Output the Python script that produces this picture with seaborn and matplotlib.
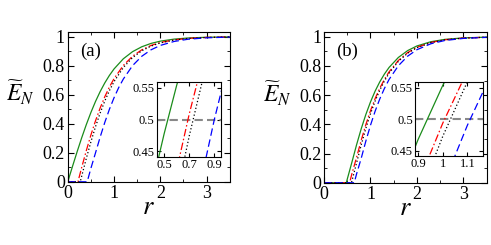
import pandas as pd
import seaborn as sns
import matplotlib
matplotlib.use("Agg")
import matplotlib.pyplot as plt
from matplotlib.ticker import MultipleLocator, FuncFormatter

# valores: painel (a)
r_a_green = [0, 0.1, 0.2, 0.3, 0.4, 0.5, 0.6, 0.7, 0.8, 0.9, 1.0, 1.2, 1.4, 1.6, 1.8, 2.0, 2.3, 2.6, 3.0, 3.5]
E_a_green = [0, 0.1036, 0.2050, 0.3023, 0.3935, 0.4777, 0.5540, 0.6218, 0.6815, 0.7334, 0.7779,
             0.8477, 0.8969, 0.9307, 0.9538, 0.9693, 0.9834, 0.9911, 0.9961, 0.9986]
r_a_red = [0, 0.22, 0.3, 0.4, 0.5, 0.6, 0.7, 0.8, 0.9, 1.0, 1.2, 1.4, 1.6, 1.8, 2.0, 2.3, 2.6, 3.0, 3.5]
E_a_red = [0, 0, 0.0976, 0.2142, 0.3225, 0.4210, 0.5087, 0.5860, 0.6533, 0.7111, 0.8017, 0.8658,
           0.9097, 0.9398, 0.9600, 0.9784, 0.9884, 0.9949, 0.9982]
r_a_black = [0, 0.27, 0.3, 0.4, 0.5, 0.6, 0.7, 0.8, 0.9, 1.0, 1.2, 1.4, 1.6, 1.8, 2.0, 2.3, 2.6, 3.0, 3.5]
E_a_black = [0, 0, 0.0377, 0.1607, 0.2757, 0.3805, 0.4741, 0.5567, 0.6287, 0.6905, 0.7876, 0.8561,
             0.9032, 0.9355, 0.9571, 0.9768, 0.9875, 0.9946, 0.9981]
r_a_blue = [0, 0.42, 0.5, 0.6, 0.7, 0.8, 0.9, 1.0, 1.1, 1.2, 1.4, 1.6, 1.8, 2.0, 2.3, 2.6, 3.0, 3.5]
E_a_blue = [0, 0, 0.093, 0.2000, 0.3085, 0.4092, 0.4999, 0.5796, 0.6489, 0.7080, 0.8007, 0.8654,
            0.9098, 0.9399, 0.9674, 0.9825, 0.9923, 0.9973]

# painel (b)
r_b_green = [0, 0.48, 0.5, 0.6, 0.7, 0.8, 0.9, 1.0, 1.1, 1.2, 1.3, 1.4, 1.6, 1.8, 2.0, 2.3, 2.6, 3.0, 3.5]
E_b_green = [0, 0, 0.025, 0.1410, 0.2599, 0.3695, 0.4677, 0.5536, 0.6278, 0.6910, 0.7445, 0.7896,
             0.8580, 0.9050, 0.9368, 0.9658, 0.9817, 0.9920, 0.9971]
r_b_red = [0, 0.55, 0.6, 0.7, 0.8, 0.9, 1.0, 1.1, 1.2, 1.3, 1.4, 1.6, 1.8, 2.0, 2.3, 2.6, 3.0, 3.5]
E_b_red = [0, 0, 0.062, 0.1736, 0.2910, 0.3984, 0.4936, 0.5767, 0.6477, 0.7083, 0.7593, 0.8374,
           0.8911, 0.9275, 0.9607, 0.9789, 0.9908, 0.9967]
r_b_black = [0, 0.59, 0.6, 0.7, 0.8, 0.9, 1.0, 1.1, 1.2, 1.3, 1.4, 1.6, 1.8, 2.0, 2.3, 2.6, 3.0, 3.5]
E_b_black = [0, 0, 0.0125, 0.1352, 0.2593, 0.3726, 0.4727, 0.5597, 0.6340, 0.6971, 0.7504, 0.8314,
             0.8873, 0.9250, 0.9593, 0.9782, 0.9904, 0.9966]
r_b_blue = [0, 0.65, 0.7, 0.8, 0.9, 1.0, 1.1, 1.2, 1.3, 1.4, 1.6, 1.8, 2.0, 2.3, 2.6, 3.0, 3.5]
E_b_blue = [0, 0, 0.06, 0.1674, 0.2855, 0.3939, 0.4903, 0.5741, 0.6461, 0.7074, 0.8014, 0.8668,
            0.9111, 0.9518, 0.9741, 0.9886, 0.9959]

curvas = ["green", "red", "black", "blue"]
cores = {"green": "#1a8c1a", "red": "#ff0000", "black": "#000000", "blue": "#0000ff"}
tracos = {"green": "", "red": (6, 2, 1.2, 2), "black": (1, 1.8), "blue": (6, 3)}


def monta(rs, Es):
    partes = []
    for nome, r, E in zip(curvas, rs, Es):
        partes.append(pd.DataFrame({"r": r, "E": E, "curva": nome}))
    return pd.concat(partes, ignore_index=True)


df_a = monta([r_a_green, r_a_red, r_a_black, r_a_blue], [E_a_green, E_a_red, E_a_black, E_a_blue])
df_b = monta([r_b_green, r_b_red, r_b_black, r_b_blue], [E_b_green, E_b_red, E_b_black, E_b_blue])

sns.set_style("ticks")
plt.rcParams["font.family"] = "serif"
plt.rcParams["font.serif"] = ["Liberation Serif", "DejaVu Serif"]
plt.rcParams["mathtext.fontset"] = "stix"
plt.rcParams["xtick.direction"] = "in"
plt.rcParams["ytick.direction"] = "in"
plt.rcParams["xtick.top"] = True
plt.rcParams["ytick.right"] = True
for k in ["text.color", "axes.labelcolor", "xtick.color", "ytick.color", "axes.edgecolor"]:
    plt.rcParams[k] = "black"

fmt = FuncFormatter(lambda v, p: "%g" % round(v, 3))

fig = plt.figure(figsize=(4.91, 2.45), dpi=100)
ax_a = fig.add_axes([0.138, 0.258, 0.330, 0.610])
ax_b = fig.add_axes([0.660, 0.254, 0.331, 0.614])
in_a = fig.add_axes([0.319, 0.359, 0.131, 0.306])
in_b = fig.add_axes([0.845, 0.362, 0.138, 0.303])

for ax, df, letra in [(ax_a, df_a, "(a)"), (ax_b, df_b, "(b)")]:
    sns.lineplot(data=df, x="r", y="E", hue="curva", style="curva", palette=cores, dashes=tracos,
                 hue_order=curvas, style_order=curvas, sort=False, linewidth=0.9, legend=False, ax=ax)
    ax.set_xlim(0, 3.5)
    ax.set_ylim(0, 1.03)
    ax.xaxis.set_major_locator(MultipleLocator(1))
    ax.xaxis.set_minor_locator(MultipleLocator(0.5))
    ax.yaxis.set_major_locator(MultipleLocator(0.2))
    ax.yaxis.set_minor_locator(MultipleLocator(0.1))
    ax.xaxis.set_major_formatter(fmt)
    ax.yaxis.set_major_formatter(fmt)
    ax.tick_params(which="major", length=4, labelsize=13, pad=2)
    ax.tick_params(which="minor", length=2.5)
    ax.set_xlabel("$r$", fontsize=19, labelpad=-3)
    ax.set_ylabel(r"$\widetilde{E}_N$", fontsize=17, rotation=0)
    ax.yaxis.set_label_coords(-0.29, 0.50)
    ax.text(0.075, 0.875, letra, transform=ax.transAxes, fontsize=13.5, ha="left", va="center")

for ax, df, lim, major in [(in_a, df_a, (0.44, 0.953), [0.5, 0.7, 0.9]),
                           (in_b, df_b, (0.887, 1.162), [0.9, 1.0, 1.1])]:
    ax.axhline(0.5, color="#888888", linewidth=1.5, dashes=(4, 2))
    sns.lineplot(data=df, x="r", y="E", hue="curva", style="curva", palette=cores, dashes=tracos,
                 hue_order=curvas, style_order=curvas, sort=False, linewidth=0.9, legend=False, ax=ax)
    ax.set_xlim(*lim)
    ax.set_ylim(0.441, 0.559)
    ax.set_xticks(major)
    ax.set_yticks([0.45, 0.5, 0.55])
    ax.xaxis.set_major_formatter(fmt)
    ax.yaxis.set_major_formatter(fmt)
    ax.tick_params(which="major", length=3, labelsize=9, pad=1.5)
    ax.set_xlabel("")
    ax.set_ylabel("")

fig.savefig("out.png", dpi=100)
